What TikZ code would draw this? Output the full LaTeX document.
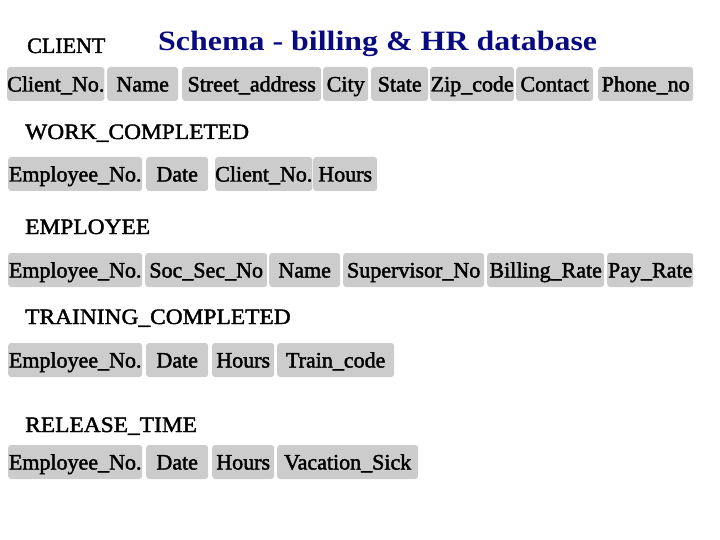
\documentclass[tikz,border=0pt]{standalone}
\usepackage{fontspec}
\setmainfont{Liberation Serif}[FakeBold=1.8]
\newfontfamily\labelfont{Liberation Serif}[FakeBold=1.8, FakeStretch=1.065]
\newfontfamily\titlefont{Liberation Serif Bold}[FakeStretch=1.14]
\definecolor{cellgray}{HTML}{CCCCCC}
\definecolor{titlenavy}{HTML}{0A0A80}
\tikzset{
  cell/.style={fill=cellgray, rounded corners=3pt, inner xsep=0pt, inner ysep=0pt,
    minimum height=34pt, text height=15pt, text depth=0pt, anchor=west,
    font=\fontsize{22}{26}\selectfont},
  tlabel/.style={anchor=base west, inner sep=0pt, font=\labelfont\fontsize{22}{26}\selectfont},
  clabel/.style={anchor=base west, inner sep=0pt, font=\fontsize{22}{26}\selectfont},
  ttitle/.style={anchor=base west, inner sep=0pt, text=titlenavy, font=\titlefont\fontsize{28}{34}\selectfont}
}
\begin{document}
\begin{tikzpicture}[x=1pt,y=-1pt]
\useasboundingbox (0,0) rectangle (720,540);
% title and labels
\node[ttitle] (title) at (158,51) {Schema - billing \& HR database};
\node[clabel] (lclient) at (27,53) {CLIENT};
\node[tlabel] (lwork) at (25,139) {WORK\_COMPLETED};
\node[tlabel] (lemp) at (25,234) {EMPLOYEE};
\node[tlabel] (ltrain) at (25,324) {TRAINING\_COMPLETED};
\node[tlabel] (lrel) at (25,432) {RELEASE\_TIME};
% CLIENT row
\node[cell, minimum width=97pt] (c1) at (7,84) {Client\_No.};
\node[cell, minimum width=71pt] (c2) at (107,84) {Name};
\node[cell, minimum width=139pt] (c3) at (182,84) {Street\_address};
\node[cell, minimum width=45pt] (c4) at (323,84) {City};
\node[cell, minimum width=57pt] (c5) at (371,84) {State};
\node[cell, minimum width=84pt] (c6) at (430,84) {Zip\_code};
\node[cell, minimum width=77pt] (c7) at (516,84) {Contact};
\node[cell, minimum width=95pt] (c8) at (598,84) {Phone\_no};
% WORK_COMPLETED row
\node[cell, minimum width=134pt] (w1) at (8,174) {Employee\_No.};
\node[cell, minimum width=62pt] (w2) at (146,174) {Date};
\node[cell, minimum width=95pt] (w3) at (215,174) {Client\_No.};
\node[cell, minimum width=64pt] (w4) at (313,174) {Hours};
% EMPLOYEE row
\node[cell, minimum width=134pt] (e1) at (8,270) {Employee\_No.};
\node[cell, minimum width=122pt] (e2) at (145,270) {Soc\_Sec\_No};
\node[cell, minimum width=71pt] (e3) at (269,270) {Name};
\node[cell, minimum width=141pt] (e4) at (343,270) {Supervisor\_No};
\node[cell, minimum width=117pt] (e5) at (487,270) {Billing\_Rate};
\node[cell, minimum width=86pt] (e6) at (607,270) {Pay\_Rate};
% TRAINING_COMPLETED row
\node[cell, minimum width=134pt] (t1) at (8,360) {Employee\_No.};
\node[cell, minimum width=62pt] (t2) at (146,360) {Date};
\node[cell, minimum width=62pt] (t3) at (212,360) {Hours};
\node[cell, minimum width=117pt] (t4) at (277,360) {Train\_code};
% RELEASE_TIME row
\node[cell, minimum width=134pt] (r1) at (8,462) {Employee\_No.};
\node[cell, minimum width=62pt] (r2) at (146,462) {Date};
\node[cell, minimum width=62pt] (r3) at (212,462) {Hours};
\node[cell, minimum width=141pt] (r4) at (277,462) {Vacation\_Sick};
\end{tikzpicture}
\end{document}
